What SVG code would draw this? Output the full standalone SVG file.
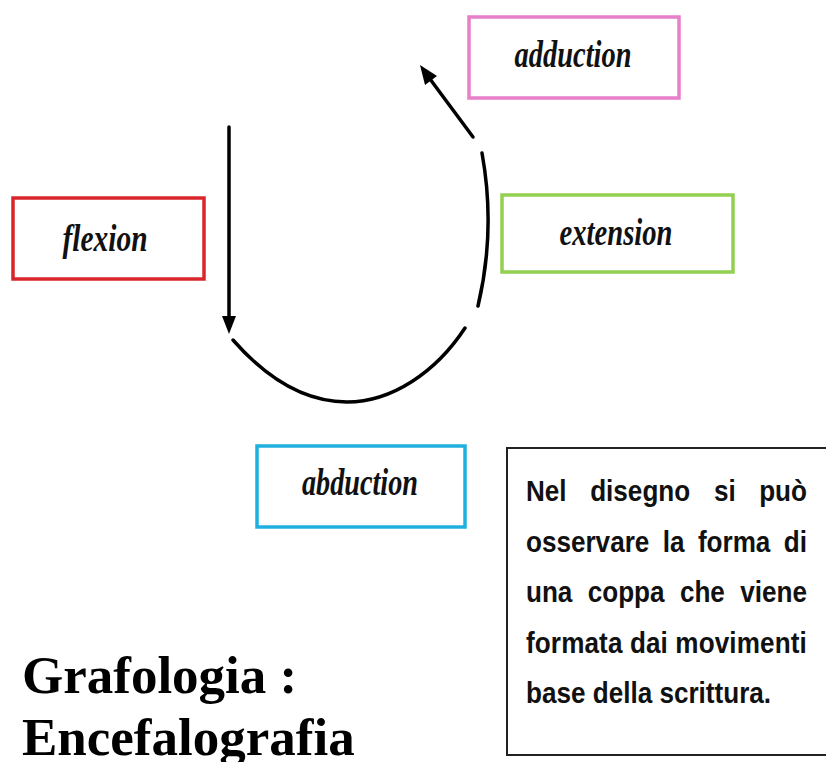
<svg xmlns="http://www.w3.org/2000/svg" width="826" height="762" viewBox="0 0 826 762">
<style>
.box{fill:#fff;stroke-width:3.5}
.lbl{font-family:"Liberation Serif",serif;font-style:italic;font-weight:bold;font-size:37px;fill:#111;text-anchor:middle}
.conn{fill:none;stroke:#000;stroke-width:3.5;stroke-linecap:round}
.note{font-family:"Liberation Sans",Arial,sans-serif;font-weight:bold;font-size:29px;fill:#111}
.end{text-anchor:end}
.title{font-family:"Liberation Serif","Times New Roman",serif;font-weight:bold;font-size:53px;fill:#000}
</style>
<rect width="826" height="762" fill="#fff"/>
<g id="connectors">
<path class="conn" d="M229,127 L229,318" stroke-width="3"/>
<path d="M222,316 L236,316 L229,334 z" fill="#000"/>
<path class="conn" d="M233,340 C268,380 305,402 347,402 C392,402 436,372 465,328" stroke-width="4"/>
<path class="conn" d="M482,153 Q496,230 478,306"/>
<path class="conn" d="M473,137 L430,79"/>
<path d="M420,65 L437,76 L425,85 z" fill="#000"/>
</g>
<g id="adduction">
<rect class="box" x="469" y="17" width="210" height="81" stroke="#e77fc9"/>
<text class="lbl" x="573" y="67" textLength="117" lengthAdjust="spacingAndGlyphs">adduction</text>
</g>
<g id="flexion">
<rect class="box" x="13" y="198" width="191" height="81" stroke="#d9262b"/>
<text class="lbl" x="105" y="251" textLength="85" lengthAdjust="spacingAndGlyphs">flexion</text>
</g>
<g id="extension">
<rect class="box" x="502" y="195" width="231" height="77" stroke="#92d050"/>
<text class="lbl" x="616" y="245" textLength="113" lengthAdjust="spacingAndGlyphs">extension</text>
</g>
<g id="abduction">
<rect class="box" x="257" y="446" width="208" height="81" stroke="#1fb0e0"/>
<text class="lbl" x="360" y="495" textLength="116" lengthAdjust="spacingAndGlyphs">abduction</text>
</g>
<g id="note">
<rect x="507" y="448" width="330" height="307" fill="#fff" stroke="#222" stroke-width="2"/>
<g transform="translate(526,0) scale(0.9,1)">
<text class="note" y="501"><tspan x="0">Nel</tspan><tspan x="71.3">disegno</tspan><tspan x="208.8">si</tspan><tspan x="312.2" class="end">può</tspan></text>
<text class="note" y="552"><tspan x="0">osservare</tspan><tspan x="151.9">la</tspan><tspan x="191">forma</tspan><tspan x="312.2" class="end">di</tspan></text>
<text class="note" y="602"><tspan x="0">una</tspan><tspan x="68.6">coppa</tspan><tspan x="171">che</tspan><tspan x="312.2" class="end">viene</tspan></text>
<text class="note" x="0" y="653" textLength="312" lengthAdjust="spacing">formata dai movimenti</text>
<text class="note" x="0" y="703">base della scrittura.</text>
</g>
</g>
<g id="title">
<text class="title" x="22" y="693">Grafologia :</text>
<text class="title" x="22" y="755">Encefalografia</text>
</g>
</svg>
